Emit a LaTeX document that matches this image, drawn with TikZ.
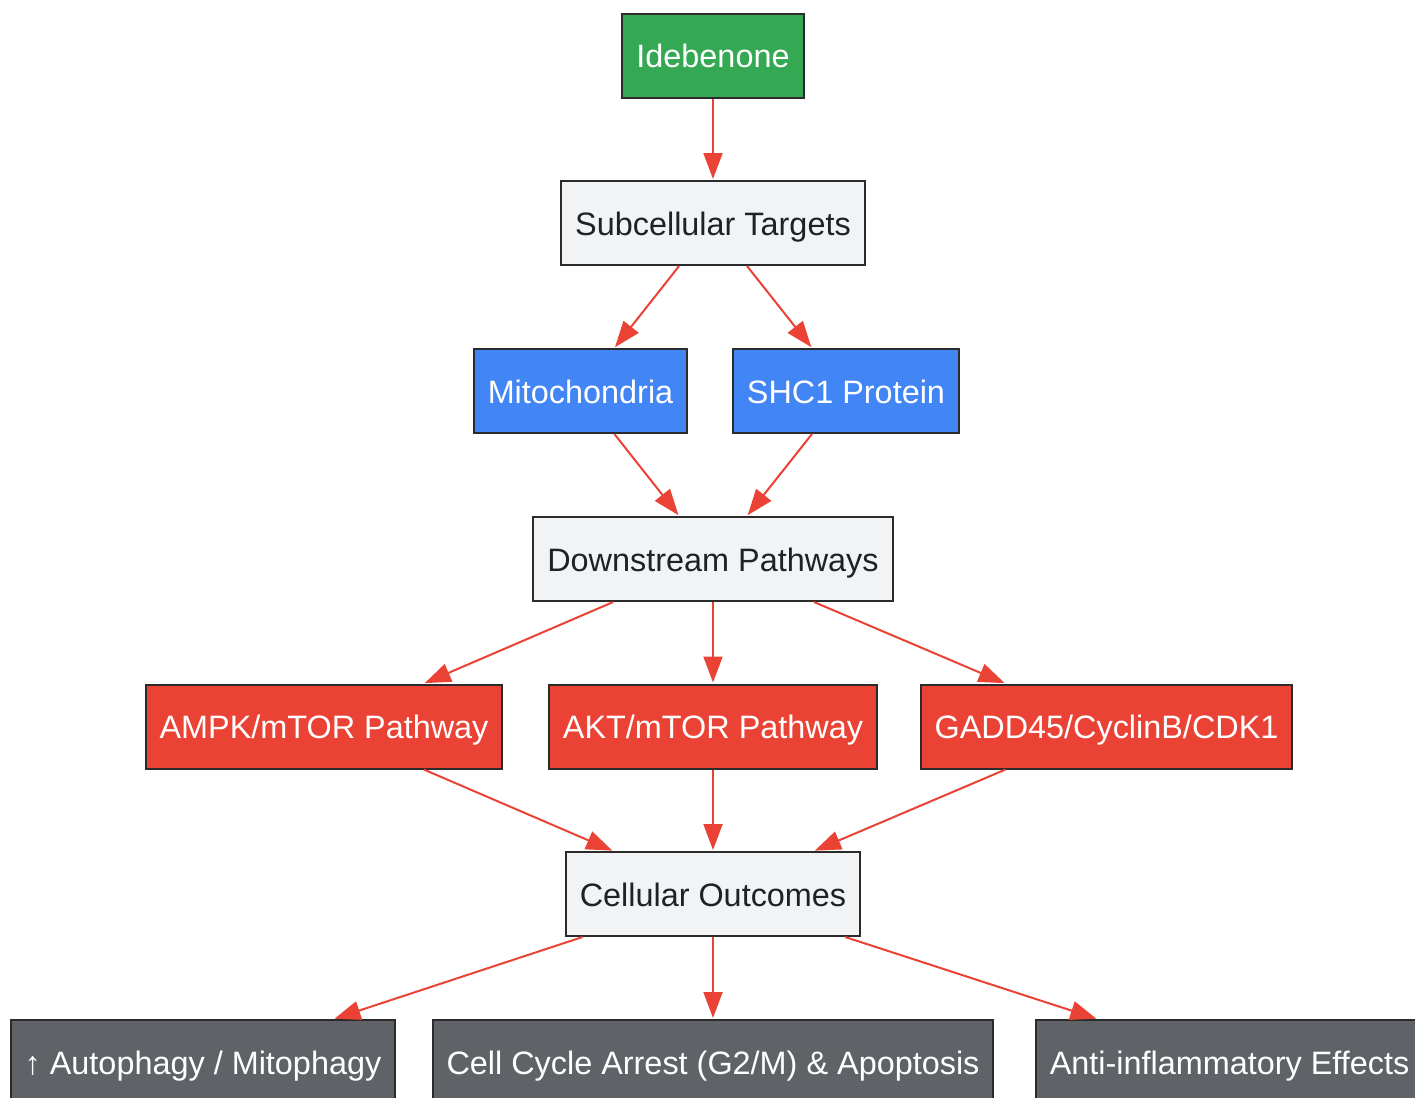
\documentclass[tikz,border=0pt]{standalone}
\usepackage{fontspec}
\setmainfont{Liberation Sans}
\usepackage{xcolor}
\usepackage{tikz}
\usetikzlibrary{shapes,arrows.meta}
\definecolor{drugGreen}{HTML}{34A853}
\definecolor{targetBlue}{HTML}{4285F4}
\definecolor{pathRed}{HTML}{EA4335}
\definecolor{stageGray}{HTML}{F1F3F4}
\definecolor{outDark}{HTML}{5F6368}
\definecolor{lineDark}{HTML}{2B2B2B}
\definecolor{textDark}{HTML}{202124}
\tikzset{box/.style = {shape=rectangle,draw=lineDark,line width=1pt,minimum height=42pt,inner xsep=7pt,text height=12.5pt,text depth=0.5pt,font=\fontsize{16.2}{19}\selectfont}}
\tikzset{edge/.style = {-{Triangle[length=13pt,width=9.5pt]},draw=pathRed,line width=1pt,shorten >=0.5pt}}

\begin{document}
\begin{tikzpicture}[x=0.5pt,y=-0.5pt]
		\tikzset{drug/.style = {box,fill=drugGreen,text=white}}
		\tikzset{stage/.style = {box,fill=stageGray,text=textDark}}
		\tikzset{target/.style = {box,fill=targetBlue,text=white}}
		\tikzset{pathway/.style = {box,fill=pathRed,text=white}}
		\tikzset{outcome/.style = {box,fill=outDark,text=white}}
		\useasboundingbox[fill=white] (0,0) rectangle (1415,1098);
		% vertices
		\node[drug] (ide) at (713,55.5) {Idebenone};
		\node[stage] (sub) at (713,223) {Subcellular Targets};
		\node[target] (mito) at (580.5,391) {Mitochondria};
		\node[target] (shc) at (846,391) {SHC1 Protein};
		\node[stage] (down) at (713,559) {Downstream Pathways};
		\node[pathway] (ampk) at (324,726.5) {AMPK/mTOR Pathway};
		\node[pathway] (akt) at (713,726.5) {AKT/mTOR Pathway};
		\node[pathway] (gadd) at (1106.5,726.5) {GADD45/CyclinB/CDK1};
		\node[stage] (cell) at (713,894) {Cellular Outcomes};
		\node[outcome] (auto) at (203,1062) {↑ Autophagy / Mitophagy};
		\node[outcome] (arrest) at (713,1062) {Cell Cycle Arrest (G2/M) \& Apoptosis};
		\node[outcome] (anti) at (1229.5,1062) {Anti-inflammatory Effects};
		%edges
		\draw[edge] (ide) to (sub);
		\draw[edge] (sub) to (mito);
		\draw[edge] (sub) to (shc);
		\draw[edge] (mito) to (down);
		\draw[edge] (shc) to (down);
		\draw[edge] (down) to (ampk);
		\draw[edge] (down) to (akt);
		\draw[edge] (down) to (gadd);
		\draw[edge] (ampk) to (cell);
		\draw[edge] (akt) to (cell);
		\draw[edge] (gadd) to (cell);
		\draw[edge] (cell) to (auto);
		\draw[edge] (cell) to (arrest);
		\draw[edge] (cell) to (anti);
	\end{tikzpicture}
\end{document}
